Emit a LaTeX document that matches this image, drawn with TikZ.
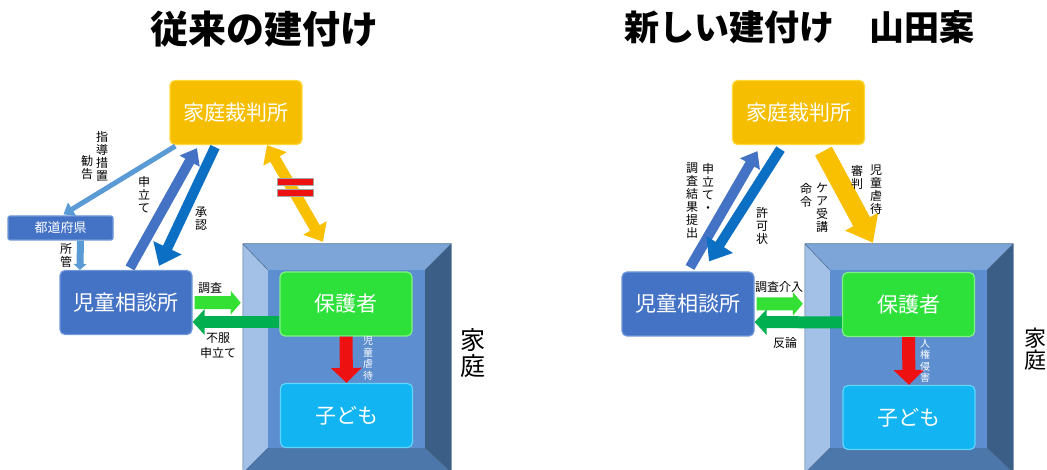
\documentclass[tikz,border=0pt]{standalone}
\usepackage{fontspec}
\setmainfont{Noto Sans CJK JP}
\usetikzlibrary{arrows.meta,calc}
\definecolor{gold}{HTML}{F5BE00}
\definecolor{goldedge}{HTML}{FFD93A}
\definecolor{bluebox}{HTML}{4472C4}
\definecolor{blueedge}{HTML}{7097DA}
\definecolor{greenbox}{HTML}{2EE03A}
\definecolor{greenedge}{HTML}{80F283}
\definecolor{cyanbox}{HTML}{12B4F2}
\definecolor{cyanedge}{HTML}{60D6FB}
\definecolor{frtop}{HTML}{7DA5D8}
\definecolor{frleft}{HTML}{A3C1E6}
\definecolor{frright}{HTML}{3B5E87}
\definecolor{frbottom}{HTML}{4C77AB}
\definecolor{frinner}{HTML}{5D8ECF}
\definecolor{frline}{HTML}{4F6F99}
\definecolor{arlight}{HTML}{5B9BD5}
\definecolor{armid}{HTML}{4472C4}
\definecolor{ardark}{HTML}{0B6FC4}
\definecolor{argreen}{HTML}{33E033}
\definecolor{ardkgreen}{HTML}{00B050}
\definecolor{arred}{HTML}{EE1111}
\definecolor{aryellow}{HTML}{F8C000}
\tikzset{
  box/.style={rounded corners=5pt, inner sep=0pt, text=white, line width=1.2pt,
    font=\fontsize{21}{21}\selectfont, minimum width=132pt, minimum height=64pt},
  kasaibox/.style={box, fill=gold, draw=goldedge},
  jidobox/.style={box, fill=bluebox, draw=blueedge},
  prefbox/.style={box, fill=bluebox, draw=blueedge, minimum width=105pt, minimum height=24pt,
    rounded corners=2pt, font=\fontsize{13}{13}\selectfont},
  hogobox/.style={box, fill=greenbox, draw=greenedge},
  kodobox/.style={box, fill=cyanbox, draw=cyanedge},
  housebox/.style={inner sep=0pt, minimum width=208pt, minimum height=229pt},
  title/.style={font=\fontsize{35}{35}\selectfont\bfseries, inner sep=0pt},
  lab/.style={font=\fontsize{12}{13}\selectfont, align=center, inner sep=0pt},
  wlab/.style={font=\fontsize{10}{11.5}\selectfont, align=center, inner sep=0pt, text=white},
  biglab/.style={font=\fontsize{25}{26}\selectfont, align=center, inner sep=0pt},
  shido/.style={draw=arlight, line width=5pt, -{Triangle[length=10pt,width=15pt]}},
  shokan/.style={draw=arlight, line width=7pt, -{Triangle[length=6pt,width=13pt]}},
  moushi/.style={draw=armid, line width=10pt, -{Triangle[length=15pt,width=22pt]}},
  shonin/.style={draw=ardark, line width=10pt, -{Triangle[length=20pt,width=30pt]}},
  yeltwo/.style={draw=aryellow, line width=11pt, {Triangle[length=16pt,width=26pt]}-{Triangle[length=16pt,width=26pt]}},
  yelone/.style={draw=aryellow, line width=19pt, -{Triangle[length=24pt,width=36pt]}},
  chosa/.style={draw=argreen, line width=13pt, -{Triangle[length=10pt,width=23pt]}},
  fufuku/.style={draw=ardkgreen, line width=12pt, -{Triangle[length=12pt,width=25pt]}},
  gyaku/.style={draw=arred, line width=13pt, -{Triangle[length=15pt,width=30pt]}},
  eqbar/.style={fill=arred, draw=gray!70, line width=0.6pt},
}
\newcommand{\houseframe}[1]{%
  \coordinate (#1-a) at ($(#1.north west)+(25,26)$);
  \coordinate (#1-b) at ($(#1.north east)+(-26,26)$);
  \coordinate (#1-c) at ($(#1.south east)+(-26,-25)$);
  \coordinate (#1-d) at ($(#1.south west)+(25,-25)$);
  \fill[frtop] (#1.north west) -- (#1.north east) -- (#1-b) -- (#1-a) -- cycle;
  \fill[frleft] (#1.north west) -- (#1-a) -- (#1-d) -- (#1.south west) -- cycle;
  \fill[frright] (#1.north east) -- (#1.south east) -- (#1-c) -- (#1-b) -- cycle;
  \fill[frbottom] (#1.south west) -- (#1-d) -- (#1-c) -- (#1.south east) -- cycle;
  \fill[frinner] (#1-a) rectangle (#1-c);
  \draw[frline, line width=0.6pt] (#1.north west) rectangle (#1.south east)
    (#1.north west) -- (#1-a) (#1.north east) -- (#1-b)
    (#1.south east) -- (#1-c) (#1.south west) -- (#1-d);
}
\begin{document}
\begin{tikzpicture}[x=1pt,y=-1pt]
\useasboundingbox (0,0) rectangle (1047,470);
\clip (0,0) rectangle (1047,470);
\fill[white] (0,0) rectangle (1047,470);

% ---------- titles ----------
\node[title, font=\fontsize{38}{38}\selectfont\bfseries] (t1) at (264,29) {従来の建付け};
\node[title] (t2) at (799,27) {新しい建付け　山田案};

% ---------- left diagram ----------
\node[housebox] (house1) at (347,358.5) {};
\houseframe{house1}
\node[kasaibox] (kasai1) at (236,112.5) {家庭裁判所};
\node[prefbox] (pref1) at (60.5,228) {都道府県};
\node[jidobox] (jido1) at (126,302.5) {児童相談所};
\node[hogobox] (hogo1) at (346,304) {保護者};
\node[kodobox] (kodo1) at (346.5,415.5) {子ども};

\draw[shido] ($(kasai1.south west)+(6,1)$) -- ($(pref1.north)+(3,-1)$);
\draw[shokan] ($(pref1.south)+(20,0)$) -- ($(jido1.north west)+(20.5,0)$);
\draw[moushi] ($(jido1.north)+(4,-2)$) -- ($(kasai1.south)+(-39,3)$);
\draw[shonin] ($(kasai1.south)+(-21,2)$) -- ($(jido1.north)+(33,-4)$);
\draw[yeltwo] ($(kasai1.south)+(31,0)$) -- ($(house1.north)+(-24,-2)$);
\draw[eqbar] (277,178) rectangle (313,185.5);
\draw[eqbar] (277,189) rectangle (313,196.5);
\draw[chosa] ($(jido1.east)+(2,0)$) -- ($(house1.north west)+(-2,59)$);
\draw[fufuku] ($(hogo1.west)+(0,18)$) -- ($(jido1.east)+(0,19.5)$);
\draw[gyaku] (hogo1.south) -- (kodo1.north);

\node[lab] (l1a) at (102,156) {指\\導\\措\\置};
\node[lab] (l1b) at (87,167.5) {勧\\告};
\node[lab] (l1c) at (66,256) {所\\管};
\node[lab] (l1d) at (144,195) {申\\立\\て};
\node[lab] (l1e) at (201,218.5) {承\\認};
\node[lab] (l1f) at (210,288) {調査};
\node[lab, font=\fontsize{12}{15}\selectfont] (l1g) at (218,345.5) {不服\\申立て};
\node[wlab] (l1h) at (368,358.5) {児\\童\\虐\\待};
\node[biglab] (l1i) at (473,353) {家\\庭};

% ---------- right diagram ----------
\node[housebox] (house2) at (909,358.5) {};
\houseframe{house2}
\node[kasaibox] (kasai2) at (798.5,112.5) {家庭裁判所};
\node[jidobox] (jido2) at (688,304) {児童相談所};
\node[hogobox] (hogo2) at (908.5,304.5) {保護者};
\node[kodobox] (kodo2) at (909,417.5) {子ども};

\draw[moushi] ($(jido2.north)+(2,-4)$) -- ($(kasai2.south)+(-41,6)$);
\draw[shonin] ($(kasai2.south)+(-18,4)$) -- ($(jido2.north)+(21,-10)$);
\draw[yelone] ($(kasai2.south)+(25,6)$) -- ($(house2.north)+(-36,-1)$);
\draw[chosa] ($(jido2.east)+(2,0)$) -- ($(house2.north west)+(-2,60)$);
\draw[fufuku] ($(hogo2.west)+(0,18)$) -- ($(jido2.east)+(0,18)$);
\draw[gyaku] (hogo2.south) -- (kodo2.north);

\node[lab, anchor=north] (r1a) at (708,163) {申\\立\\て\\・};
\node[lab, anchor=north] (r1b) at (692,163) {調\\査\\結\\果\\提\\出};
\node[lab] (r1c) at (762,225.5) {許\\可\\状};
\node[lab, anchor=north] (r1d) at (876,165) {児\\童\\虐\\待};
\node[lab, anchor=north] (r1e) at (857,165) {審\\判};
\node[lab, anchor=north] (r1f) at (822,183) {ケ\\ア\\受\\講};
\node[lab, anchor=north] (r1g) at (806,183) {命\\令};
\node[lab] (r1h) at (779,287) {調査介入};
\node[lab] (r1i) at (785,343) {反論};
\node[wlab] (r1j) at (925,361) {人\\権\\侵\\害};
\node[biglab, font=\fontsize{22}{22}\selectfont] (r1k) at (1035,349) {家\\庭};
\end{tikzpicture}
\end{document}
